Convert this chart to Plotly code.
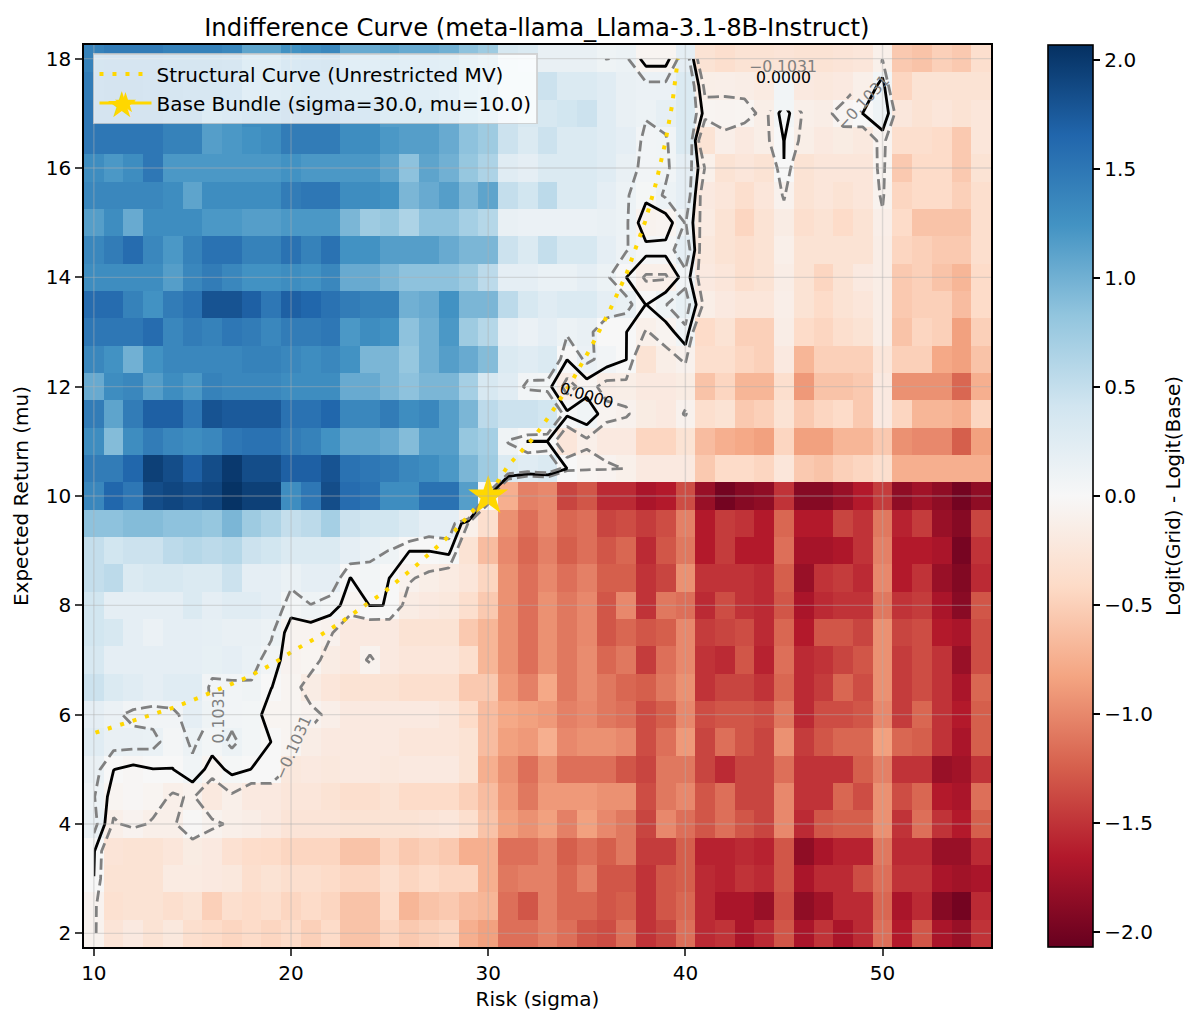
import plotly.graph_objects as go

# grid of the sweep
sigma = list(range(10, 56))
mu = [18, 17.5, 17, 16.5, 16, 15.5, 15, 14.5, 14, 13.5, 13, 12.5, 12, 11.5, 11, 10.5, 10,
      9.5, 9, 8.5, 8, 7.5, 7, 6.5, 6, 5.5, 5, 4.5, 4, 3.5, 3, 2.5, 2]

# logit difference per mu row, sigma 10 -> 55
z_180 = [1.4,1.45,1.45,1.45,1.4,1.4,1.4,1.35,1.1,1.1,1.25,1.3,1.35,1.05,1.05,1.1,1.05,1.05,1.0,.85,.75,.35,.3,
         .15,.15,.15,.1,.12,-.05,-.05,.2,-.3,-.35,-.3,-.3,-.28,-.3,-.3,-.28,-.25,-.11,-.55,-.6,-.5,-.55,-.35]
z_175 = [1.45,1.5,1.5,1.45,1.4,1.35,1.35,1.3,1.05,1.1,1.15,1.2,1.2,1.15,1.1,1.1,1.05,1.05,.95,.8,.7,.35,.35,
         .45,.3,.3,.25,.15,.13,.13,.3,-.14,-.13,-.15,-.18,.06,-.2,-.22,-.2,-.12,.05,-.45,-.3,-.3,-.3,-.3]
z_170 = [1.5,1.5,1.5,1.5,1.4,1.4,1.15,1.2,1.3,1.3,1.45,1.45,1.45,1.3,1.3,1.15,1.15,1.15,1.05,.85,.75,.45,.35,
         .35,.4,.45,.25,.15,.115,.18,.3,-.05,-.06,-.05,-.14,.05,-.12,-.15,-.04,.002,.1,-.23,-.3,-.25,-.3,-.25]
z_165 = [1.5,1.5,1.5,1.5,1.4,1.4,1.15,1.2,1.25,1.3,1.45,1.45,1.45,1.3,1.3,1.2,1.15,1.15,1.05,.85,.75,.45,.3,
         .45,.3,.3,.25,.2,.07,.08,.3,-.3,-.13,-.2,-.14,.002,-.14,-.2,-.17,-.21,-.06,-.35,-.35,-.4,-.55,-.25]
z_160 = [1.3,1.2,1.3,1.5,1.2,1.2,1.2,1.2,1.2,1.2,1.25,1.2,1.2,1.2,1.2,1.1,.85,1.1,1.0,.8,.65,.25,.2,
         .3,.3,.3,.25,.15,.07,.08,.2,-.11,-.3,-.25,-.3,-.001,-.3,-.25,-.25,-.25,-.05,-.55,-.4,-.4,-.55,-.3]
z_155 = [1.35,1.35,1.35,1.35,1.3,1.1,1.3,1.3,1.3,1.3,1.45,1.5,1.5,1.3,1.3,1.25,.95,1.05,1.15,.95,1.1,.5,.4,
         .55,.3,.3,.2,.115,.03,.12,.2,-.2,-.25,-.35,-.25,-.09,-.3,-.25,-.3,-.25,-.08,-.45,-.4,-.4,-.5,-.35]
z_150 = [1.15,1.3,1.05,1.3,1.3,1.3,1.2,1.2,1.15,1.15,1.2,1.2,1.2,.95,.75,.8,.65,.85,.85,.7,.6,.15,.13,
         .13,.13,.13,.15,.12,-.08,-.06,.11,-.18,-.3,-.45,-.3,-.16,-.35,-.3,-.4,-.3,-.13,-.4,-.6,-.6,-.6,-.35]
z_145 = [1.35,1.45,1.6,1.35,1.2,1.4,1.55,1.55,1.4,1.4,1.55,1.4,1.55,1.25,1.25,1.15,1.15,1.15,1.05,.95,.95,.45,.3,
         .5,.35,.35,.2,.11,.035,.035,.2,-.22,-.3,-.35,-.3,-.12,-.3,-.3,-.3,-.3,-.15,-.45,-.5,-.55,-.55,-.35]
z_140 = [1.3,1.3,1.3,1.3,1.15,1.35,1.45,1.35,1.25,1.25,1.3,1.25,1.35,1.05,1.05,.95,.85,.85,.85,.75,.55,.2,.2,
         .14,.14,.2,.12,.001,-.12,-.12,.06,-.2,-.25,-.35,-.3,-.15,-.3,-.45,-.3,-.2,-.15,-.55,-.5,-.6,-.7,-.4]
z_135 = [1.6,1.6,1.4,1.25,1.45,1.55,1.8,1.8,1.7,1.5,1.7,1.65,1.55,1.45,1.4,1.4,1.0,1.05,1.25,.95,.95,.55,.35,
         .25,.3,.3,.2,.15,-.003,.1,.17,-.14,-.2,-.25,-.25,-.13,-.3,-.4,-.3,-.25,-.15,-.55,-.5,-.5,-.65,-.4]
z_130 = [1.5,1.5,1.5,1.6,1.35,1.45,1.4,1.5,1.45,1.35,1.45,1.45,1.5,1.2,1.3,1.25,.85,1.0,1.2,.75,.6,.2,.13,
         .2,.12,.15,.002,.002,-.11,-.06,.08,-.4,-.3,-.5,-.5,-.15,-.4,-.45,-.35,-.3,-.15,-.6,-.45,-.5,-.85,-.5]
z_125 = [1.35,1.25,1.0,1.25,1.35,1.35,1.35,1.35,1.4,1.4,1.35,1.3,1.35,1.25,.95,.95,.8,1.0,1.15,1.05,.9,.3,.25,
         .3,.002,.13,.06,.002,-.3,-.14,-.09,-.35,-.35,-.45,-.5,-.2,-.7,-.5,-.5,-.5,-.25,-.5,-.5,-.8,-.85,-.6]
z_120 = [1.05,1.3,1.35,1.15,1.3,1.2,1.4,1.35,1.35,1.35,1.3,1.3,1.3,1.05,1.05,.95,.85,.95,.95,.7,.35,.25,.06,
         .04,-.15,-.05,-.15,-.14,-.2,-.2,-.17,-.6,-.45,-.7,-.7,-.35,-.9,-.6,-.6,-.55,-.2,-.95,-.95,-.95,-1.2,-.75]
z_115 = [1.45,1.1,1.45,1.7,1.7,1.5,1.8,1.75,1.75,1.75,1.55,1.55,1.65,1.35,1.35,1.45,1.3,1.35,1.15,.95,.55,.45,.45,
         .4,.02,.08,-.06,-.09,-.17,-.2,-.09,-.35,-.3,-.55,-.5,-.3,-.55,-.45,-.4,-.55,-.2,-.45,-.7,-.7,-.75,-.45]
z_110 = [1.3,.9,1.3,1.45,1.35,1.3,1.35,1.5,1.55,1.55,1.45,1.4,1.25,1.1,1.1,1.05,.9,1.15,1.15,.8,.7,.09,-.003,
         -.003,-.25,-.125,-.2,-.2,-.45,-.45,-.3,-.65,-.75,-.8,-.85,-.45,-.85,-.85,-.7,-.7,-.55,-.95,-1.0,-1.0,-1.25,-.85]
z_105 = [1.45,1.45,1.65,1.95,1.85,1.7,1.85,2.0,1.85,1.85,1.7,1.7,1.8,1.55,1.5,1.45,1.35,1.3,1.2,.95,.75,.3,.25,
         .3,-.001,-.05,-.07,-.11,-.2,-.2,-.2,-.55,-.4,-.4,-.45,-.25,-.55,-.6,-.5,-.45,-.35,-.75,-.75,-.75,-.75,-.75]
z_100 = [1.35,1.65,1.5,1.85,1.9,1.85,1.9,2.05,1.95,1.95,1.3,1.5,1.85,1.6,1.55,1.3,1.3,1.55,1.55,1.15,0,-.75,-1.05,
         -1.0,-1.4,-1.3,-1.55,-1.55,-1.7,-1.65,-1.35,-1.8,-2.0,-1.9,-1.85,-1.5,-1.9,-1.9,-1.8,-1.65,-1.45,-1.85,-1.75,-1.85,-2.0,-1.85]
z_095 = [.85,.85,.9,.9,.85,.85,.8,.95,.75,.65,.5,.55,.7,.45,.4,.4,.3,.2,.2,-.11,-.35,-.95,-1.15,
         -1.0,-1.2,-1.15,-1.4,-1.35,-1.45,-1.35,-1.05,-1.65,-1.45,-1.5,-1.65,-1.2,-1.65,-1.65,-1.4,-1.5,-1.1,-1.6,-1.45,-1.8,-1.9,-1.4]
z_090 = [.5,.4,.45,.45,.55,.6,.55,.6,.45,.4,.3,.3,.3,.2,.14,.1,.002,.002,.03,-.3,-.65,-1.0,-1.2,
         -1.05,-1.25,-1.15,-1.3,-1.2,-1.55,-1.3,-1.1,-1.65,-1.45,-1.65,-1.65,-1.15,-1.72,-1.72,-1.68,-1.5,-1.05,-1.65,-1.65,-1.7,-1.98,-1.5]
z_085 = [.5,.55,.3,.35,.35,.3,.3,.45,.2,.2,.14,.2,.2,-.002,.05,-.001,-.09,-.135,-.18,-.25,-.45,-.95,-1.15,
         -1.0,-1.15,-1.05,-1.25,-1.25,-1.5,-1.4,-.95,-1.5,-1.5,-1.5,-1.55,-1.25,-1.8,-1.5,-1.45,-1.55,-1.0,-1.65,-1.5,-1.8,-1.92,-1.55]
z_080 = [.4,.2,.2,.2,.2,.3,.2,.25,.25,.2,.05,.1,.05,-.05,.002,-.001,-.16,-.2,-.22,-.35,-.55,-.95,-1.15,
         -.95,-1.1,-1.0,-1.3,-1.0,-1.5,-1.1,-1.15,-1.55,-1.35,-1.5,-1.55,-1.3,-1.7,-1.55,-1.5,-1.5,-1.1,-1.5,-1.45,-1.7,-1.88,-1.3]
z_075 = [.4,.35,.2,.13,.2,.2,.18,.15,.15,.12,-.06,-.06,-.09,-.2,-.2,-.2,-.3,-.3,-.3,-.55,-.7,-.95,-1.15,
         -.95,-1.1,-1.0,-1.3,-1.2,-1.3,-1.25,-1.0,-1.45,-1.4,-1.35,-1.55,-1.2,-1.65,-1.3,-1.3,-1.4,-.95,-1.4,-1.35,-1.65,-1.7,-1.35]
z_070 = [.35,.2,.2,.2,.2,.2,.17,.2,.14,.06,-.07,-.05,-.16,-.2,-.08,-.2,-.25,-.25,-.25,-.35,-.7,-.95,-1.15,
         -.95,-1.1,-.98,-1.2,-1.1,-1.45,-1.15,-1.0,-1.5,-1.55,-1.3,-1.6,-1.15,-1.55,-1.5,-1.4,-1.3,-.95,-1.45,-1.35,-1.5,-1.8,-1.35]
z_065 = [.45,.3,.25,.2,.25,.25,.07,.07,.09,.002,-.05,-.16,-.25,-.3,-.3,-.3,-.35,-.35,-.35,-.55,-.55,-.9,-1.05,
         -.8,-1.1,-.98,-1.1,-1.2,-1.25,-1.1,-.95,-1.5,-1.4,-1.4,-1.5,-1.2,-1.55,-1.45,-1.2,-1.35,-.95,-1.45,-1.35,-1.5,-1.7,-1.2]
z_060 = [.2,.13,.07,.06,.06,.2,.1,.07,.05,-.05,-.05,-.07,-.13,-.2,-.2,-.2,-.2,-.2,-.25,-.4,-.65,-.8,-.85,
         -.9,-1.05,-1.0,-1.1,-1.15,-1.35,-1.25,-1.0,-1.35,-1.3,-1.3,-1.35,-1.1,-1.55,-1.35,-1.35,-1.3,-1.0,-1.45,-1.2,-1.5,-1.65,-1.25]
z_055 = [.25,.15,.15,.14,.04,.12,.05,.125,.05,-.001,-.05,-.15,-.2,-.2,-.2,-.2,-.25,-.25,-.25,-.3,-.65,-.85,-.9,
         -.75,-1.0,-.95,-.95,-1.0,-1.35,-1.15,-.9,-1.4,-1.15,-1.3,-1.4,-.95,-1.45,-1.3,-1.2,-1.2,-.85,-1.2,-1.25,-1.5,-1.7,-1.25]
z_050 = [.15,.002,-.03,-.002,-.002,.08,-.05,.03,-.002,-.002,-.22,-.2,-.22,-.2,-.2,-.22,-.2,-.2,-.2,-.3,-.75,-.95,-1.15,
         -.95,-1.15,-1.15,-1.15,-1.3,-1.4,-1.1,-1.1,-1.4,-1.55,-1.4,-1.4,-1.15,-1.5,-1.5,-1.5,-1.25,-1.05,-1.5,-1.5,-1.8,-1.75,-1.5]
z_045 = [.11,-.05,-.03,-.05,-.12,-.09,-.21,-.12,-.2,-.2,-.25,-.25,-.3,-.35,-.35,-.3,-.4,-.4,-.4,-.5,-.65,-.9,-1.1,
         -.9,-.9,-.9,-.95,-.95,-1.35,-1.1,-1.0,-1.3,-1.15,-1.4,-1.4,-1.0,-1.5,-1.5,-1.2,-1.35,-.95,-1.35,-1.2,-1.65,-1.7,-1.15]
z_040 = [.15,-.12,-.07,-.118,-.12,-.02,-.08,-.12,-.15,-.2,-.28,-.28,-.28,-.3,-.3,-.3,-.3,-.28,-.25,-.35,-.6,-.85,-.95,
         -.85,-1.05,-.85,-1.0,-1.1,-1.4,-1.0,-1.15,-1.3,-1.15,-1.3,-1.4,-1.0,-1.55,-1.3,-1.25,-1.25,-.95,-1.5,-1.15,-1.5,-1.65,-1.25]
z_035 = [.01,-.28,-.3,-.3,-.25,-.17,-.2,-.32,-.38,-.4,-.45,-.45,-.45,-.6,-.6,-.45,-.55,-.5,-.55,-.75,-.75,-1.15,-1.15,
         -1.05,-1.25,-1.15,-1.25,-1.1,-1.45,-1.45,-1.25,-1.6,-1.6,-1.55,-1.6,-1.3,-1.85,-1.7,-1.6,-1.6,-1.1,-1.55,-1.55,-1.8,-1.8,-1.55]
z_030 = [-.001,-.3,-.3,-.3,-.18,-.18,-.2,-.22,-.35,-.3,-.35,-.35,-.4,-.45,-.45,-.35,-.45,-.4,-.45,-.45,-.75,-1.1,-1.05,
         -1.05,-1.2,-1.05,-1.3,-1.3,-1.5,-1.3,-1.25,-1.55,-1.6,-1.5,-1.55,-1.3,-1.7,-1.55,-1.55,-1.35,-1.15,-1.5,-1.5,-1.7,-1.75,-1.7]
z_025 = [-.07,-.33,-.3,-.3,-.35,-.3,-.5,-.35,-.4,-.35,-.45,-.4,-.45,-.6,-.6,-.4,-.7,-.6,-.55,-.65,-.7,-1.15,-1.3,
         -1.05,-1.2,-1.2,-1.3,-1.25,-1.5,-1.3,-1.2,-1.55,-1.7,-1.7,-1.8,-1.35,-1.85,-1.75,-1.55,-1.55,-1.2,-1.7,-1.55,-1.9,-2.0,-1.55]
z_020 = [-.08,-.28,-.2,-.3,-.22,-.35,-.4,-.45,-.4,-.45,-.4,-.5,-.4,-.6,-.6,-.45,-.55,-.5,-.45,-.75,-.85,-1.15,-1.15,
         -1.05,-1.15,-1.3,-1.35,-1.15,-1.5,-1.4,-1.15,-1.55,-1.5,-1.7,-1.55,-1.3,-1.7,-1.5,-1.7,-1.55,-1.15,-1.65,-1.3,-1.7,-1.8,-1.5]

z = [z_180, z_175, z_170, z_165, z_160, z_155, z_150, z_145, z_140, z_135, z_130, z_125, z_120, z_115, z_110, z_105, z_100,
     z_095, z_090, z_085, z_080, z_075, z_070, z_065, z_060, z_055, z_050, z_045, z_040, z_035, z_030, z_025, z_020]
for row in z:
    assert len(row) == len(sigma), len(row)

# structural curve
curve_sigma = [10.08, 11.43, 12.78, 14.05, 15.32, 16.58, 17.76, 19.03, 20.13, 21.3, 22.49, 23.67, 24.68, 26.29, 27.3,
               28.3, 29.3, 30.0, 31.0, 32.32, 33.13, 34.23, 35.24, 36.17, 37.02, 37.95, 38.5, 38.96, 39.33, 39.58, 39.62]
curve_mu = [5.67, 5.82, 5.98, 6.13, 6.31, 6.5, 6.68, 6.92, 7.17, 7.41, 7.68, 7.98, 8.23, 8.71, 9.04,
            9.36, 9.76, 10.0, 10.55, 11.07, 11.48, 12.09, 12.74, 13.4, 14.07, 15.01, 15.71, 16.43, 17.16, 17.91, 18.0]
base_sigma = [30.0]
base_mu = [10.0]

level = 0.1031
x_ticks = [10, 20, 30, 40, 50]
y_ticks = [2, 4, 6, 8, 10, 12, 14, 16, 18]

rdbu = [[0.0, '#67001f'], [0.1, '#b2182b'], [0.2, '#d6604d'], [0.3, '#f4a582'], [0.4, '#fddbc7'], [0.5, '#f7f7f7'],
        [0.6, '#d1e5f0'], [0.7, '#92c5de'], [0.8, '#4393c3'], [0.9, '#2166ac'], [1.0, '#053061']]


def masked(cells):
    # the inline labels eat the contour underneath them
    out = [list(r) for r in z]
    for s, m in cells:
        out[mu.index(m)][sigma.index(s)] = None
    return out


top_cells = [(44, 18), (45, 18), (46, 18), (44, 17.5), (45, 17.5), (46, 17.5)]

fig = go.Figure()

fig.add_trace(go.Heatmap(
    x=sigma, y=mu, z=z, zmin=-2.07, zmax=2.07, colorscale=rdbu, showlegend=False,
    colorbar=dict(
        x=1.0628, xanchor='left', xpad=0, y=0.5, yanchor='middle', ypad=0, len=1, lenmode='fraction',
        thickness=45, thicknessmode='pixels', outlinewidth=1.6, outlinecolor='black',
        tick0=0, dtick=0.5, tickformat='.1f', ticks='outside', ticklen=7, tickwidth=1.6, tickcolor='black',
        ticksuffix='\u00a0', tickfont=dict(size=20),
        title=dict(text='Logit(Grid) - Logit(Base)', side='right', font=dict(size=20)),
    ),
))


def add_level(value, color, dash, cells):
    fig.add_trace(go.Contour(
        x=sigma, y=mu, z=masked(cells), showscale=False, showlegend=False, hoverinfo='skip',
        contours=dict(coloring='none', start=value, end=value, size=1),
        line=dict(color=color, width=2.8, dash=dash, smoothing=0),
    ))


add_level(-level, 'gray', '11px,5px', top_cells + [(49, 17.5), (49, 18), (20, 5.5), (21, 5.5), (20, 5)])
add_level(0.0, 'black', 'solid', top_cells)
add_level(level, 'gray', '11px,5px', [(16, 6)])

fig.add_trace(go.Scatter(
    x=curve_sigma, y=curve_mu, mode='lines', name='Structural Curve (Unrestricted MV)',
    line=dict(color='gold', width=4, dash='4px,9px'),
))
fig.add_trace(go.Scatter(
    x=base_sigma, y=base_mu, mode='lines+markers', name='Base Bundle (sigma=30.0, mu=10.0)',
    line=dict(color='gold', width=3), marker=dict(symbol='star', size=30, color='gold'),
))

grid = dict(type='line', layer='above', line=dict(color='rgba(176,176,176,0.4)', width=1.4))
shapes = []
for t in x_ticks:
    shapes.append(dict(grid, xref='x', yref='paper', x0=t, x1=t, y0=0, y1=1))
for t in y_ticks:
    shapes.append(dict(grid, xref='paper', yref='y', x0=0, x1=1, y0=t, y1=t))

labels = [
    dict(x=35.0, y=11.83, text='0.0000', textangle=17, font=dict(color='black', size=15.7)),
    dict(x=44.96, y=17.65, text='0.0000', textangle=0, font=dict(color='black', size=15.7)),
    dict(x=44.96, y=17.85, text='\u22120.1031', textangle=0, font=dict(color='gray', size=15.7)),
    dict(x=16.3, y=5.97, text='0.1031', textangle=-90, font=dict(color='gray', size=15.7)),
    dict(x=20.1, y=5.4, text='\u22120.1031', textangle=-66, font=dict(color='gray', size=15.7)),
    dict(x=49.0, y=17.2, text='\u22120.1031', textangle=-47, font=dict(color='gray', size=15.7)),
]
for a in labels:
    a.update(showarrow=False, xref='x', yref='y')
# plotly caps the legend marker at 16px, the reference star is about twice that
labels.append(dict(x=0.0221, y=0.959, xref='paper', yref='paper', showarrow=False, text='\u2605',
                   font=dict(color='gold', size=36, family='DejaVu Sans')))

fig.update_layout(
    width=1192, height=1017,
    margin=dict(l=76, r=209, t=37, b=78, autoexpand=False),
    paper_bgcolor='white', plot_bgcolor='white',
    font=dict(family='DejaVu Sans', size=20, color='black'),
    title=dict(text='Indifference Curve (meta-llama_Llama-3.1-8B-Instruct)', x=0.4437, xanchor='center',
               y=0.981, yanchor='middle', font=dict(size=24.3)),
    xaxis=dict(title=dict(text='Risk (sigma)', font=dict(size=20), standoff=8), range=[9.5, 55.5], tickvals=x_ticks,
               ticks='outside', ticklen=7, tickwidth=1.6, tickfont=dict(size=20),
               showgrid=False, zeroline=False, showline=True, mirror=True, linecolor='black', linewidth=1.6),
    yaxis=dict(title=dict(text='Expected Return (mu)', font=dict(size=20), standoff=12), range=[1.75, 18.25], tickvals=y_ticks,
               ticks='outside', ticklen=7, tickwidth=1.6, tickfont=dict(size=20),
               showgrid=False, zeroline=False, showline=True, mirror=True, linecolor='black', linewidth=1.6),
    legend=dict(x=0.0099, y=0.991, xanchor='left', yanchor='top', bgcolor='rgba(255,255,255,0.8)',
                bordercolor='rgba(204,204,204,0.8)', borderwidth=1.5, font=dict(size=20), itemwidth=52),
    shapes=shapes, annotations=labels,
)

fig.write_html("out.html")
